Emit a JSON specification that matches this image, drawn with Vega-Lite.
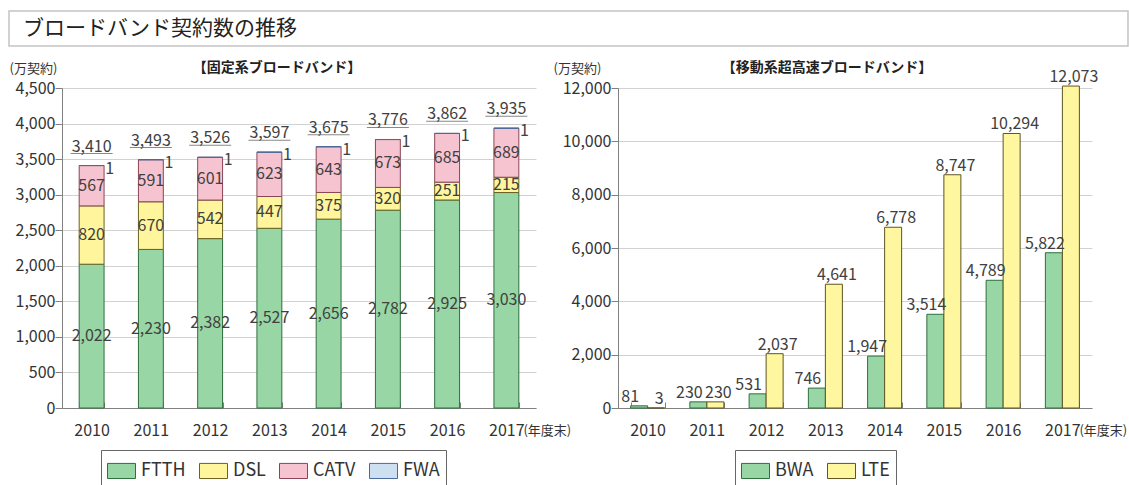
{
  "$schema": "https://vega.github.io/schema/vega-lite/v6.json",
  "padding": {"left": 8, "top": 10, "right": 0, "bottom": 0},
  "autosize": {"type": "pad"},
  "background": "white",
  "config": {
    "view": {"stroke": null},
    "font": "Noto Sans CJK JP",
    "text": {"font": "Noto Sans CJK JP", "fontSize": 16, "color": "#404040"},
    "title": {"font": "Noto Sans CJK JP", "color": "#222222"},
    "axis": {
      "labelFont": "Noto Sans CJK JP",
      "labelFontSize": 16,
      "labelColor": "#333333",
      "domainColor": "#808080",
      "tickColor": "#808080",
      "gridColor": "#d2d2d2",
      "titleFont": "Noto Sans CJK JP",
      "titleFontWeight": "normal",
      "titleColor": "#333333"
    },
    "legend": {
      "labelFont": "Noto Sans CJK JP",
      "labelFontSize": 18,
      "labelColor": "#333333",
      "symbolType": "M-1,-0.54H1V0.54H-1Z",
      "symbolSize": 784,
      "symbolStrokeWidth": 1,
      "strokeColor": "#666666",
      "padding": 6,
      "columnPadding": 11,
      "labelOffset": 5,
      "direction": "horizontal",
      "orient": "none"
    }
  },
  "datasets": {
    "fixed": [
      {"year": "2010", "series": "FTTH", "k": 1, "value": 2022},
      {"year": "2010", "series": "DSL", "k": 2, "value": 820},
      {"year": "2010", "series": "CATV", "k": 3, "value": 567},
      {"year": "2010", "series": "FWA", "k": 4, "value": 1},
      {"year": "2011", "series": "FTTH", "k": 1, "value": 2230},
      {"year": "2011", "series": "DSL", "k": 2, "value": 670},
      {"year": "2011", "series": "CATV", "k": 3, "value": 591},
      {"year": "2011", "series": "FWA", "k": 4, "value": 1},
      {"year": "2012", "series": "FTTH", "k": 1, "value": 2382},
      {"year": "2012", "series": "DSL", "k": 2, "value": 542},
      {"year": "2012", "series": "CATV", "k": 3, "value": 601},
      {"year": "2012", "series": "FWA", "k": 4, "value": 1},
      {"year": "2013", "series": "FTTH", "k": 1, "value": 2527},
      {"year": "2013", "series": "DSL", "k": 2, "value": 447},
      {"year": "2013", "series": "CATV", "k": 3, "value": 623},
      {"year": "2013", "series": "FWA", "k": 4, "value": 1},
      {"year": "2014", "series": "FTTH", "k": 1, "value": 2656},
      {"year": "2014", "series": "DSL", "k": 2, "value": 375},
      {"year": "2014", "series": "CATV", "k": 3, "value": 643},
      {"year": "2014", "series": "FWA", "k": 4, "value": 1},
      {"year": "2015", "series": "FTTH", "k": 1, "value": 2782},
      {"year": "2015", "series": "DSL", "k": 2, "value": 320},
      {"year": "2015", "series": "CATV", "k": 3, "value": 673},
      {"year": "2015", "series": "FWA", "k": 4, "value": 1},
      {"year": "2016", "series": "FTTH", "k": 1, "value": 2925},
      {"year": "2016", "series": "DSL", "k": 2, "value": 251},
      {"year": "2016", "series": "CATV", "k": 3, "value": 685},
      {"year": "2016", "series": "FWA", "k": 4, "value": 1},
      {"year": "2017", "series": "FTTH", "k": 1, "value": 3030},
      {"year": "2017", "series": "DSL", "k": 2, "value": 215},
      {"year": "2017", "series": "CATV", "k": 3, "value": 689},
      {"year": "2017", "series": "FWA", "k": 4, "value": 1}
    ],
    "fixedTotal": [
      {"year": "2010", "total": 3410},
      {"year": "2011", "total": 3493},
      {"year": "2012", "total": 3526},
      {"year": "2013", "total": 3597},
      {"year": "2014", "total": 3675},
      {"year": "2015", "total": 3776},
      {"year": "2016", "total": 3862},
      {"year": "2017", "total": 3935}
    ],
    "mobile": [
      {"year": "2010", "series": "BWA", "value": 81},
      {"year": "2010", "series": "LTE", "value": 3},
      {"year": "2011", "series": "BWA", "value": 230},
      {"year": "2011", "series": "LTE", "value": 230},
      {"year": "2012", "series": "BWA", "value": 531},
      {"year": "2012", "series": "LTE", "value": 2037},
      {"year": "2013", "series": "BWA", "value": 746},
      {"year": "2013", "series": "LTE", "value": 4641},
      {"year": "2014", "series": "BWA", "value": 1947},
      {"year": "2014", "series": "LTE", "value": 6778},
      {"year": "2015", "series": "BWA", "value": 3514},
      {"year": "2015", "series": "LTE", "value": 8747},
      {"year": "2016", "series": "BWA", "value": 4789},
      {"year": "2016", "series": "LTE", "value": 10294},
      {"year": "2017", "series": "BWA", "value": 5822},
      {"year": "2017", "series": "LTE", "value": 12073}
    ],
    "note": [
      {"year": "2017", "note": "(年度末)"}
    ]
  },
  "spacing": 14,
  "vconcat": [
    {
      "width": 1119,
      "height": 35,
      "view": {"stroke": "#c4c4c4", "strokeWidth": 1.5},
      "data": {"values": [{"t": "ブロードバンド契約数の推移"}]},
      "mark": {"type": "text", "align": "left", "baseline": "middle", "dx": 14, "fontSize": 21, "color": "#222222"},
      "encoding": {
        "text": {"field": "t"},
        "x": {"datum": 0, "type": "quantitative", "scale": {"domain": [0, 1]}, "axis": null}
      }
    },
    {
      "spacing": -19,
      "resolve": {"scale": {"color": "independent", "stroke": "independent", "y": "independent", "x": "independent"}},
      "hconcat": [
        {
          "width": 19,
          "height": 320,
          "data": {"values": []},
          "mark": {"type": "point", "opacity": 0},
          "encoding": {}
        },
        {
          "width": 474,
          "height": 320,
          "title": {"text": "【固定系ブロードバンド】", "fontSize": 14, "fontWeight": "bold", "dx": -22, "offset": -13, "frame": "group"},
          "encoding": {
            "x": {
              "field": "year", "type": "nominal",
              "scale": {"paddingInner": 0.58, "paddingOuter": 0.29},
              "axis": {"title": null, "labelAngle": 0, "tickBand": "extent", "tickSize": -6, "labelPadding": 20}
            }
          },
          "layer": [
            {
              "data": {"name": "fixed"},
              "mark": {"type": "bar", "strokeWidth": 1},
              "encoding": {
                "y": {
                  "field": "value", "type": "quantitative", "stack": "zero", "title": "(万契約)",
                  "scale": {"domain": [0, 4500], "nice": false},
                  "axis": {"values": [0, 500, 1000, 1500, 2000, 2500, 3000, 3500, 4000, 4500], "labelExpr": "format(datum.value, ',')", "tickSize": 7, "labelPadding": 0, "grid": true, "titleAngle": 0, "titleAlign": "left", "titleBaseline": "alphabetic", "titleX": -53, "titleY": -16, "titleFontSize": 13}
                },
                "color": {
                  "field": "series", "type": "nominal",
                  "scale": {"domain": ["FTTH", "DSL", "CATV", "FWA"], "range": ["#98d7a5", "#fff59c", "#f6c4d0", "#cfdff2"]},
                  "legend": {"title": null, "legendX": 39, "legendY": 362}
                },
                "stroke": {
                  "field": "series", "type": "nominal",
                  "scale": {"domain": ["FTTH", "DSL", "CATV", "FWA"], "range": ["#2f6e3e", "#6a6122", "#8a4555", "#4a6a9c"]},
                  "legend": {"title": null, "legendX": 39, "legendY": 362}
                },
                "order": {"field": "k"}
              }
            },
            {
              "data": {"name": "fixed"},
              "transform": [
                {"stack": "value", "groupby": ["year"], "sort": [{"field": "k"}], "as": ["v0", "v1"]},
                {"calculate": "(datum.v0 + datum.v1) / 2", "as": "mid"},
                {"filter": "datum.series != 'FWA'"}
              ],
              "mark": {"type": "text", "baseline": "middle"},
              "encoding": {
                "y": {"field": "mid", "type": "quantitative", "title": "(万契約)",
                  "axis": {"values": [0, 500, 1000, 1500, 2000, 2500, 3000, 3500, 4000, 4500], "labelExpr": "format(datum.value, ',')", "tickSize": 7, "labelPadding": 0, "grid": true, "titleAngle": 0, "titleAlign": "left", "titleBaseline": "alphabetic", "titleX": -53, "titleY": -16, "titleFontSize": 13}},
                "text": {"field": "value", "format": ","}
              }
            },
            {
              "data": {"name": "fixed"},
              "transform": [
                {"stack": "value", "groupby": ["year"], "sort": [{"field": "k"}], "as": ["v0", "v1"]},
                {"filter": "datum.series == 'FWA'"}
              ],
              "mark": {"type": "text", "baseline": "middle", "dx": 18, "dy": 3},
              "encoding": {
                "y": {"field": "v1", "type": "quantitative", "title": "(万契約)",
                  "axis": {"values": [0, 500, 1000, 1500, 2000, 2500, 3000, 3500, 4000, 4500], "labelExpr": "format(datum.value, ',')", "tickSize": 7, "labelPadding": 0, "grid": true, "titleAngle": 0, "titleAlign": "left", "titleBaseline": "alphabetic", "titleX": -53, "titleY": -16, "titleFontSize": 13}},
                "text": {"field": "value", "format": ","}
              }
            },
            {
              "data": {"name": "fixedTotal"},
              "mark": {"type": "text", "baseline": "alphabetic", "dy": -14},
              "encoding": {
                "y": {"field": "total", "type": "quantitative", "title": "(万契約)",
                  "axis": {"values": [0, 500, 1000, 1500, 2000, 2500, 3000, 3500, 4000, 4500], "labelExpr": "format(datum.value, ',')", "tickSize": 7, "labelPadding": 0, "grid": true, "titleAngle": 0, "titleAlign": "left", "titleBaseline": "alphabetic", "titleX": -53, "titleY": -16, "titleFontSize": 13}},
                "text": {"field": "total", "format": ","}
              }
            },
            {
              "data": {"name": "fixedTotal"},
              "mark": {"type": "tick", "size": 42, "thickness": 1, "yOffset": -12, "color": "#555555"},
              "encoding": {
                "y": {"field": "total", "type": "quantitative", "title": "(万契約)",
                  "axis": {"values": [0, 500, 1000, 1500, 2000, 2500, 3000, 3500, 4000, 4500], "labelExpr": "format(datum.value, ',')", "tickSize": 7, "labelPadding": 0, "grid": true, "titleAngle": 0, "titleAlign": "left", "titleBaseline": "alphabetic", "titleX": -53, "titleY": -16, "titleFontSize": 13}}
              }
            },
            {
              "data": {"name": "note"},
              "mark": {"type": "text", "align": "left", "baseline": "middle", "dx": 17, "dy": 23, "fontSize": 13, "color": "#333333"},
              "encoding": {
                "y": {"datum": 0, "type": "quantitative", "title": "(万契約)",
                  "axis": {"values": [0, 500, 1000, 1500, 2000, 2500, 3000, 3500, 4000, 4500], "labelExpr": "format(datum.value, ',')", "tickSize": 7, "labelPadding": 0, "grid": true, "titleAngle": 0, "titleAlign": "left", "titleBaseline": "alphabetic", "titleX": -53, "titleY": -16, "titleFontSize": 13}},
                "text": {"field": "note"}
              }
            }
          ]
        },
        {
          "width": 474,
          "height": 320,
          "title": {"text": "【移動系超高速ブロードバンド】", "fontSize": 14, "fontWeight": "bold", "dx": -28, "offset": -13, "frame": "group"},
          "encoding": {
            "x": {
              "field": "year", "type": "nominal",
              "scale": {"paddingInner": 0.426, "paddingOuter": 0.213},
              "axis": {"title": null, "labelAngle": 0, "tickBand": "extent", "tickSize": -6, "labelPadding": 20}
            }
          },
          "layer": [
            {
              "data": {"name": "mobile"},
              "mark": {"type": "bar", "strokeWidth": 1},
              "encoding": {
                "xOffset": {"field": "series", "type": "nominal", "scale": {"domain": ["BWA", "LTE"], "paddingInner": 0}},
                "y": {
                  "field": "value", "type": "quantitative", "title": "(万契約)",
                  "scale": {"domain": [0, 12000], "nice": false},
                  "axis": {"values": [0, 2000, 4000, 6000, 8000, 10000, 12000], "labelExpr": "format(datum.value, ',')", "tickSize": 7, "labelPadding": 0, "grid": true, "titleAngle": 0, "titleAlign": "left", "titleBaseline": "alphabetic", "titleX": -65, "titleY": -16, "titleFontSize": 13}
                },
                "color": {
                  "field": "series", "type": "nominal",
                  "scale": {"domain": ["BWA", "LTE"], "range": ["#98d7a5", "#fff6a0"]},
                  "legend": {"title": null, "legendX": 117, "legendY": 362}
                },
                "stroke": {
                  "field": "series", "type": "nominal",
                  "scale": {"domain": ["BWA", "LTE"], "range": ["#2f6e3e", "#5e5522"]},
                  "legend": {"title": null, "legendX": 117, "legendY": 362}
                }
              }
            },
            {
              "data": {"name": "mobile"},
              "transform": [{"filter": "datum.series == 'BWA'"}],
              "mark": {"type": "text", "baseline": "alphabetic", "dx": -9, "dy": -4},
              "encoding": {
                "xOffset": {"field": "series", "type": "nominal", "scale": {"domain": ["BWA", "LTE"], "paddingInner": 0}},
                "y": {"field": "value", "type": "quantitative", "title": "(万契約)",
                  "axis": {"values": [0, 2000, 4000, 6000, 8000, 10000, 12000], "labelExpr": "format(datum.value, ',')", "tickSize": 7, "labelPadding": 0, "grid": true, "titleAngle": 0, "titleAlign": "left", "titleBaseline": "alphabetic", "titleX": -65, "titleY": -16, "titleFontSize": 13}},
                "text": {"field": "value", "format": ","}
              }
            },
            {
              "data": {"name": "mobile"},
              "transform": [{"filter": "datum.series == 'LTE'"}],
              "mark": {"type": "text", "baseline": "alphabetic", "dx": 3, "dy": -4},
              "encoding": {
                "xOffset": {"field": "series", "type": "nominal", "scale": {"domain": ["BWA", "LTE"], "paddingInner": 0}},
                "y": {"field": "value", "type": "quantitative", "title": "(万契約)",
                  "axis": {"values": [0, 2000, 4000, 6000, 8000, 10000, 12000], "labelExpr": "format(datum.value, ',')", "tickSize": 7, "labelPadding": 0, "grid": true, "titleAngle": 0, "titleAlign": "left", "titleBaseline": "alphabetic", "titleX": -65, "titleY": -16, "titleFontSize": 13}},
                "text": {"field": "value", "format": ","}
              }
            },
            {
              "data": {"name": "note"},
              "mark": {"type": "text", "align": "left", "baseline": "middle", "dx": 17, "dy": 23, "fontSize": 13, "color": "#333333"},
              "encoding": {
                "y": {"datum": 0, "type": "quantitative", "title": "(万契約)",
                  "axis": {"values": [0, 2000, 4000, 6000, 8000, 10000, 12000], "labelExpr": "format(datum.value, ',')", "tickSize": 7, "labelPadding": 0, "grid": true, "titleAngle": 0, "titleAlign": "left", "titleBaseline": "alphabetic", "titleX": -65, "titleY": -16, "titleFontSize": 13}},
                "text": {"field": "note"}
              }
            }
          ]
        }
      ]
    }
  ]
}
